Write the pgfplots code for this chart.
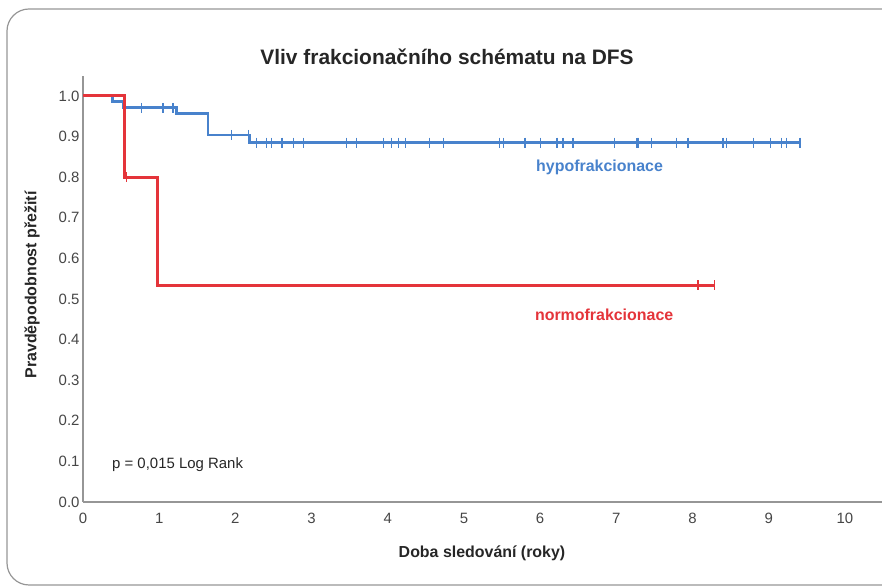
\documentclass[border=0pt]{standalone}
\usepackage{fontspec}
\setmainfont{Liberation Sans}
\usepackage{pgfplots}
\pgfplotsset{compat=1.18}
\definecolor{kmblue}{RGB}{72,130,204}
\definecolor{kmred}{RGB}{228,52,58}
\definecolor{axgray}{RGB}{150,150,150}
\definecolor{txtgray}{RGB}{70,70,70}
\begin{document}
\begin{tikzpicture}[x=1bp,y=1bp]
\path[use as bounding box] (0,0) rectangle (882,588);
\clip (0,0) rectangle (882,588);
\draw[axgray, line width=1.2bp, rounded corners=22bp] (7,3) rectangle (905,579);
\node[font=\bfseries\fontsize{21}{25}\selectfont, text=black!85] at (447,531) {Vliv frakcionačního schématu na DFS};
\begin{axis}[
  at={(83bp,86bp)}, anchor=south west,
  scale only axis, width=800bp, height=426.3bp,
  xmin=0, xmax=10.5, ymin=0, ymax=1.05,
  axis x line=bottom, axis y line=left,
  axis line style={axgray, line width=2bp, -},
  xtick={0,1,2,3,4,5,6,7,8,9,10},
  ytick={0,0.1,0.2,0.3,0.4,0.5,0.6,0.7,0.8,0.9,1},
  major tick length=0pt,
  tick label style={text=txtgray, font=\fontsize{15}{18}\selectfont},
  /pgf/number format/assume math mode=true,
  x tick label style={yshift=-8bp},
  y tick label style={/pgf/number format/.cd, fixed, fixed zerofill, precision=1},
  clip=false,
]
% hypofrakcionace
\addplot[kmblue, line width=2.8bp, const plot] coordinates {
  (0,1) (0.39,0.986) (0.53,0.971) (1.23,0.956) (1.64,0.904) (2.19,0.885) (9.41,0.885)};
\addplot[kmblue, only marks, mark=|, mark size=5bp, mark options={line width=1.3bp}] coordinates {
  (0.77,0.971) (1.05,0.971) (1.18,0.971)
  (1.95,0.904) (2.17,0.904)
  (2.28,0.885) (2.41,0.885) (2.47,0.885) (2.61,0.885) (2.76,0.885) (2.89,0.885)
  (3.46,0.885) (3.59,0.885) (3.94,0.885) (4.05,0.885) (4.14,0.885) (4.23,0.885)
  (4.55,0.885) (4.73,0.885) (5.47,0.885) (5.52,0.885) (5.80,0.885) (6.00,0.885)
  (6.22,0.885) (6.30,0.885) (6.43,0.885) (6.98,0.885) (7.27,0.885) (7.29,0.885)
  (7.46,0.885) (7.79,0.885) (7.94,0.885) (8.40,0.885) (8.45,0.885) (8.80,0.885)
  (9.02,0.885) (9.17,0.885) (9.23,0.885) (9.41,0.885)};
% normofrakcionace
\addplot[kmred, line width=3bp, const plot] coordinates {
  (0,1) (0.55,0.8) (0.98,0.534) (8.29,0.534)};
\addplot[kmred, only marks, mark=|, mark size=5bp, mark options={line width=1.3bp}] coordinates {
  (0.57,0.8) (8.07,0.534) (8.29,0.534)};
\node[text=kmblue, font=\bfseries\fontsize{16}{19}\selectfont] at (axis cs:6.78,0.825) {hypofrakcionace};
\node[text=kmred, font=\bfseries\fontsize{16}{19}\selectfont] at (axis cs:6.84,0.461) {normofrakcionace};
\node[anchor=west, text=black!85, font=\fontsize{15}{18}\selectfont, inner sep=0pt] at (axis cs:0.38,0.091) {p = 0,015 Log Rank};
\end{axis}
\node[font=\bfseries\fontsize{16}{19}\selectfont, text=black!85, rotate=90] at (32,303) {Pravděpodobnost přežití};
\node[font=\bfseries\fontsize{16}{19}\selectfont, text=black!85] at (482,35) {Doba sledování (roky)};
\end{tikzpicture}
\end{document}
